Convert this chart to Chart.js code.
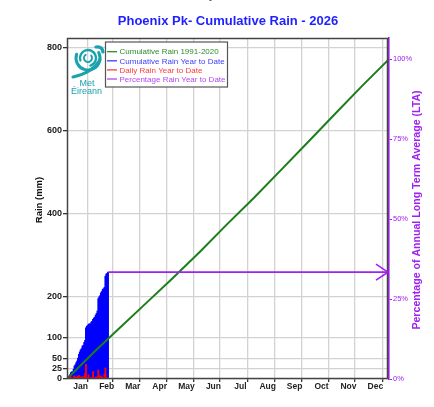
<!DOCTYPE html>
<html><head><meta charset="utf-8">
<script src="https://cdn.jsdelivr.net/npm/chart.js@4.4.1/dist/chart.umd.min.js"></script>
<style>
html,body{margin:0;padding:0;background:#fff;}
#wrap{position:relative;width:434px;height:407px;overflow:hidden;background:#fff;}
canvas{position:absolute;left:0;top:0;}
#top{position:absolute;top:-10px;left:11px;width:434px;text-align:center;font:bold 10px "Liberation Sans",Arial,sans-serif;color:#555;line-height:12px;}
#title{position:absolute;top:13px;left:11px;width:434px;text-align:center;font:bold 13px "Liberation Sans",Arial,sans-serif;color:#1f1fff;line-height:15px;}
</style></head><body>
<div id="wrap">
<canvas id="c" width="434" height="407"></canvas>
<div id="top">Day of Month</div>
<div id="title">Phoenix Pk- Cumulative Rain - 2026</div>
</div>
<script>
// ---- data ----
const monthNames = ['Jan','Feb','Mar','Apr','May','Jun','Jul','Aug','Sep','Oct','Nov','Dec'];
const monthStartDays = [0,31,59,90,120,151,181,212,243,273,304,334,365];
const ltaCumulative = [0,66,122,184,244,308,373,438,506,572,641,707,773];   // mm at month ends
const dailyRain = [2,4,1,3,5,2,0,6,8,3,5,4,7,9,6,5,
                   3,6,2,7,14,36,4,2,10,1,0,4,2,18,3,
                   2,5,4,6,22,4,8,7,3,5,2,12,27,5,2,3];
const cumulativeRain = [2,6,7,10,15,17,17,23,31,34,39,43,50,59,65,70,
                        73,79,81,88,93,123,127,129,132,133,133,137,139,144,147,
                        149,154,158,164,194,198,201,208,211,216,218,221,248,253,255,258];
const percentLastDay = 47;
const percentOfLTA = 33.4;
const leftTicks = [0,25,50,100,200,400,600,800];
const rightTicks = [0,25,50,75,100];

const GREEN = '#1c7d1c', BLUE = '#0000ff', RED = '#ff0000', PURPLE = '#a020f0', TEAL = '#1aa2ad';
const FONT = '"Liberation Sans", Arial, sans-serif';

const monthMid = monthNames.map((m,i)=>(monthStartDays[i]+monthStartDays[i+1])/2);
const xTicks = monthStartDays.concat(monthMid).sort((a,b)=>a-b);
const isBoundary = c => c && c.tick && monthStartDays.includes(c.tick.value);

const extras = {
  id:'extras',
  afterDraw(chart){
    const {ctx, chartArea:a} = chart;
    ctx.save();
    // frame
    ctx.strokeStyle = '#444'; ctx.lineWidth = 1.5;
    ctx.strokeRect(a.left+0.5, a.top+0.5, a.right-a.left-2, a.bottom-a.top-1);
    // arrow head on percentage line
    const meta = chart.getDatasetMeta(3);
    const p = meta.data[meta.data.length-1];
    ctx.strokeStyle = PURPLE; ctx.lineWidth = 1.6;
    ctx.beginPath();
    ctx.moveTo(p.x-13, p.y-8); ctx.lineTo(p.x-1, p.y); ctx.lineTo(p.x-13, p.y+8);
    ctx.stroke();
    // axis titles
    ctx.fillStyle = '#111'; ctx.font = 'bold 9.5px '+FONT;
    ctx.textAlign='center'; ctx.textBaseline='middle';
    ctx.save(); ctx.translate(39,200); ctx.rotate(-Math.PI/2); ctx.fillText('Rain (mm)',0,0); ctx.restore();
    ctx.fillStyle = PURPLE; ctx.font = 'bold 10.6px '+FONT;
    ctx.save(); ctx.translate(417,210); ctx.rotate(-Math.PI/2); ctx.fillText('Percentage of Annual Long Term Average (LTA)',0,0); ctx.restore();
    // legend
    ctx.fillStyle='#fff'; ctx.fillRect(105.5,42,122,45);
    ctx.strokeStyle='#555'; ctx.lineWidth=1.2; ctx.strokeRect(105.5,42,122,45);
    const items = [['Cumulative Rain 1991-2020','#2e8b2e'],['Cumulative Rain Year to Date','#3a3aff'],['Daily Rain Year to Date','#ff3a3a'],['Percentage Rain Year to Date','#b04af0']];
    ctx.font = '8px '+FONT; ctx.textAlign='left';
    items.forEach((it,i)=>{
      const y = 51.7 + i*9.1;
      ctx.strokeStyle = it[1]; ctx.lineWidth=1.3;
      ctx.beginPath(); ctx.moveTo(107,y); ctx.lineTo(117,y); ctx.stroke();
      ctx.fillStyle = it[1]; ctx.fillText(it[0],119.5,y+0.5);
    });
    // logo
    ctx.strokeStyle = TEAL; ctx.fillStyle = TEAL; ctx.lineCap='round';
    const cx=88, cy=58;
    ctx.lineWidth=3;
    ctx.beginPath(); ctx.arc(cx,cy,12,-0.15*Math.PI,1.1*Math.PI); ctx.stroke();
    ctx.lineWidth=2.4;
    ctx.beginPath(); ctx.arc(cx,cy,8,0.9*Math.PI,2.4*Math.PI); ctx.stroke();
    ctx.lineWidth=2;
    ctx.beginPath(); ctx.arc(cx,cy,4,-0.2*Math.PI,1.3*Math.PI); ctx.stroke();
    ctx.lineWidth=3.2;
    ctx.beginPath(); ctx.moveTo(cx+12,cy+2); ctx.quadraticCurveTo(cx+4,cy+15,cx-15,cy+19); ctx.stroke();
    ctx.beginPath(); ctx.moveTo(cx+8,cy-11); ctx.quadraticCurveTo(cx+14,cy-12,cx+15,cy-6); ctx.stroke();
    ctx.font = '9px '+FONT; ctx.textAlign='center';
    ctx.fillText('Met',87,84);
    ctx.fillText('Éireann',86.5,92);
    ctx.restore();
  }
};

new Chart(document.getElementById('c'), {
  type:'bar',
  data:{
    datasets:[
      { type:'bar', label:'Daily Rain Year to Date', order:0, grouped:false,
        data: dailyRain.map((v,i)=>({x:i+0.5,y:v})), backgroundColor:RED,
        barPercentage:1.7, categoryPercentage:1, borderWidth:0, inflateAmount:0.2 },
      { type:'line', label:'Cumulative Rain 1991-2020', order:1,
        data: ltaCumulative.map((v,i)=>({x:monthStartDays[i],y:v})),
        borderColor:GREEN, borderWidth:2, pointRadius:0, tension:0, fill:false },
      { type:'bar', label:'Cumulative Rain Year to Date', order:3, grouped:false,
        data: cumulativeRain.map((v,i)=>({x:i+0.5,y:v})), backgroundColor:BLUE,
        barPercentage:1, categoryPercentage:1, borderWidth:0, inflateAmount:0.5 },
      { type:'line', label:'Percentage Rain Year to Date', order:0, yAxisID:'y2',
        data:[{x:percentLastDay,y:percentOfLTA},{x:365,y:percentOfLTA}],
        borderColor:PURPLE, borderWidth:1.6, pointRadius:0, tension:0, fill:false }
    ]
  },
  options:{
    responsive:false, animation:false, events:[],
    layout:{padding:{top:38,left:0,right:0,bottom:0}},
    plugins:{legend:{display:false}, tooltip:{enabled:false}, title:{display:false}},
    scales:{
      x:{ type:'linear', min:0, max:365, offset:false, position:'bottom',
        afterFit:s=>{s.height=28;},
        afterBuildTicks:s=>{s.ticks = xTicks.map(v=>({value:v}));},
        border:{display:false},
        grid:{ color:c=>isBoundary(c)?'#d2d2d2':'rgba(0,0,0,0)', lineWidth:1.3,
               tickColor:c=>isBoundary(c)?'#333':'rgba(0,0,0,0)', tickLength:3, tickWidth:1.3 },
        ticks:{ autoSkip:false, maxRotation:0, padding:0, color:'#222', font:{family:FONT, size:8.5, weight:'bold'},
               callback:v=>{const i=monthMid.indexOf(v); return i>=0?monthNames[i]:'';} }
      },
      y:{ type:'linear', position:'left', min:0, max:824,
        afterFit:s=>{s.width=67;},
        afterBuildTicks:s=>{s.ticks = leftTicks.map(v=>({value:v}));},
        border:{display:false},
        grid:{ color:'#d2d2d2', lineWidth:1.3, tickColor:'#333', tickLength:4, tickWidth:1.3 },
        ticks:{ autoSkip:false, padding:1, color:'#222', font:{family:FONT, size:9, weight:'bold'} }
      },
      y2:{ type:'linear', position:'right', min:0, max:106.6,
        afterFit:s=>{s.width=45;},
        afterBuildTicks:s=>{s.ticks = rightTicks.map(v=>({value:v}));},
        border:{display:true, color:PURPLE, width:1.6},
        grid:{ drawOnChartArea:false, tickColor:PURPLE, tickLength:3, tickWidth:1 },
        ticks:{ autoSkip:false, padding:1, color:PURPLE, font:{family:FONT, size:7.5}, callback:v=>v+'%' }
      }
    }
  },
  plugins:[extras]
});
</script>
</body></html>
